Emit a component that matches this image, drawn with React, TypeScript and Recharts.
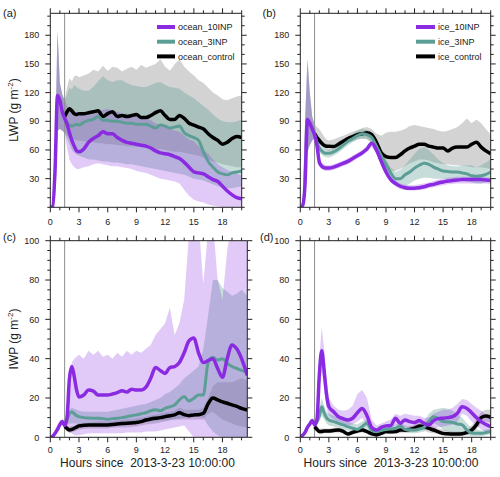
import React from 'react';
import { ComposedChart, Line, Area, XAxis, YAxis, ReferenceLine, Legend } from 'recharts';

const FONT = '"Liberation Sans", Arial, Helvetica, sans-serif';
const INK = '#222222';
const COL_10 = '#8a2be2';
const COL_3 = '#5c9e96';
const COL_CTRL = '#000000';

// ---------- axes ----------
const X_TICKS = [0, 1, 2, 3, 4, 5, 6, 7, 8, 9, 10, 11, 12, 13, 14, 15, 16, 17, 18, 19, 20];
const X_LABELS = [0, 3, 6, 9, 12, 15, 18];
const LWP_TICKS = [0, 10, 20, 30, 40, 50, 60, 70, 80, 90, 100, 110, 120, 130, 140, 150, 160, 170, 180, 190, 200];
const LWP_LABELS = [30, 60, 90, 120, 150, 180];
const IWP_TICKS = [0, 5, 10, 15, 20, 25, 30, 35, 40, 45, 50, 55, 60, 65, 70, 75, 80, 85, 90, 95, 100];
const IWP_LABELS = [0, 20, 40, 60, 80, 100];

const OCEAN_NAMES = ['ocean_10INP', 'ocean_3INP', 'ocean_control'];
const ICE_NAMES = ['ice_10INP', 'ice_3INP', 'ice_control'];

// ---------- time (hours) ----------
const T = [0, 0.25, 0.5, 0.75, 1, 1.25, 1.5, 1.75, 2, 2.25, 2.5, 2.75, 3, 3.5, 4, 4.5, 5, 5.5, 6, 6.5, 7, 7.5, 8, 8.5, 9, 9.5, 10, 10.5, 11, 11.5, 12, 12.5, 13, 13.5, 14, 14.5, 15, 15.5, 16, 16.5, 17, 17.5, 18, 18.5, 19, 19.5, 20];
const T_C = [0, 0.25, 0.5, 0.75, 1, 1.25, 1.5, 1.75, 2, 2.25, 2.5, 2.75, 3, 3.5, 4, 4.5, 5, 5.5, 6, 6.5, 7, 7.5, 8, 8.5, 9, 9.5, 10, 10.5, 11, 11.5, 12, 12.5, 13, 13.5, 14, 14.5, 15, 15.5, 16, 16.5, 17, 17.5, 18, 18.5, 19, 19.5, 20, 20.6];

const N = null;

// ---------- (a) ocean LWP ----------
const A_10INP = [0, 1, 40, 117, 112, 100, 93, 87, 78, 70, 64, 59, 58, 61, 68, 72, 75, 79, 77, 77, 73, 70, 68, 67, 66, 65, 64, 62, 59, 57, 56, 55, 53, 51, 47, 42, 37, 36, 35, 32, 29, 27, 22, 17, 13, 10, 9];
const A_3INP = [N, N, N, N, N, N, 93, 89, 86, 85, 86, 87, 86, 89, 91, 92, 95, 91, 91, 90, 90, 89, 88, 88, 87, 87, 87, 85, 83, 86, 85, 83, 84, 85, 78, 75, 73, 70, 58, 48, 42, 37, 35, 34, 36, 37, 38];
const A_CTRL = [N, N, N, N, N, N, 95, 100, 103, 101, 98, 97, 98, 98, 99, 100, 101, 95, 98, 100, 95, 96, 95, 96, 97, 94, 94, 96, 99, 101, 96, 92, 92, 96, 93, 88, 86, 84, 82, 77, 73, 70, 66, 68, 72, 74, 73];
const A_10INP_LO = [0, 0, 10, 80, 82, 80, 78, 62, 50, 45, 42, 40, 40, 42, 43, 45, 46, 45, 44, 43, 43, 42, 41, 40, 38, 37, 36, 34, 32, 30, 29, 28, 27, 25, 18, 12, 8, 6, 5, 3, 2, 1, 0, 0, 0, 0, 0];
const A_10INP_HI = [0, 2, 60, 185, 130, 118, 112, 106, 102, 100, 98, 97, 97, 97, 96, 98, 100, 102, 103, 101, 100, 98, 98, 97, 96, 94, 93, 91, 88, 86, 85, 83, 80, 79, 75, 71, 69, 64, 60, 56, 50, 45, 42, 39, 37, 35, 33];
const A_3INP_LO = [0, 0, 10, 80, 82, 80, 78, 72, 66, 60, 57, 55, 54, 52, 50, 50, 49, 48, 48, 47, 47, 46, 45, 45, 44, 43, 42, 41, 40, 39, 38, 37, 36, 35, 34, 32, 30, 29, 28, 26, 24, 22, 21, 20, 20, 21, 22];
const A_3INP_HI = [0, 2, 60, 185, 130, 118, 112, 118, 125, 123, 128, 126, 124, 122, 122, 126, 132, 137, 133, 131, 133, 133, 130, 128, 127, 126, 126, 128, 130, 131, 128, 126, 125, 124, 120, 117, 114, 110, 106, 102, 97, 93, 90, 89, 89, 90, 92];
const A_CTRL_LO = [0, 0, 10, 80, 82, 80, 78, 75, 72, 71, 71, 70, 70, 69, 68, 68, 67, 67, 66, 66, 65, 65, 64, 64, 63, 63, 62, 62, 61, 61, 60, 59, 58, 58, 57, 56, 55, 54, 52, 50, 48, 47, 45, 44, 43, 42, 42];
const A_CTRL_HI = [0, 2, 60, 185, 130, 118, 112, 125, 135, 132, 137, 138, 136, 138, 140, 144, 142, 148, 143, 147, 146, 142, 145, 147, 144, 149, 146, 148, 150, 155, 147, 143, 150, 155, 147, 142, 138, 133, 130, 125, 120, 117, 113, 112, 114, 116, 117];

// ---------- (b) ice LWP ----------
const B_10INP = [0, 2, 25, 92, 88, 82, 76, 65, 47, 43, 41.5, 41, 41, 42, 44, 46, 48, 51, 54, 57, 61, 67, 60, 48, 37, 29, 25, 22, 20.5, 20, 20, 20.5, 21.5, 23, 24, 25.5, 26.5, 27.5, 28, 28.5, 29, 29, 29, 29, 29, 28.5, 28];
const B_3INP = [N, N, N, N, N, N, 76, 68, 62, 59, 57, 56.5, 56.5, 58, 61, 65, 69, 72, 75, 77, 76, 73, 64, 54, 45, 36, 30, 30, 34, 37, 41, 44, 46, 45, 42, 40, 38, 37.5, 37, 37, 36, 35, 33, 32.5, 33, 34.5, 37];
const B_CTRL = [N, N, N, N, N, N, 77, 73, 70, 67, 65, 64, 64, 63.5, 66, 69, 72, 74, 76, 77, 78, 76, 68, 57, 53, 52, 52, 55, 59, 62, 64, 66, 66, 64, 63, 62, 62, 59, 62, 63, 63, 63, 66, 68, 63, 59, 56];
const B_10INP_LO = [0, 0, 15, 58, 65, 70, 72, 60, 44, 40, 38.5, 38, 38, 39, 41, 43, 45, 48, 51, 54, 58, 63, 56, 44, 33, 26, 22, 19, 18, 17.5, 17.5, 18, 18.5, 20, 21, 22, 23, 24, 24.5, 25, 25, 25, 25, 25, 25, 25, 24.5];
const B_10INP_HI = [0, 3, 90, 155, 120, 95, 86, 72, 52, 47, 45, 44, 44, 45, 47, 49, 51, 54, 57, 60, 64, 70, 64, 52, 41, 33, 28, 25, 23.5, 23, 23, 24, 25, 26, 27.5, 29, 30, 31, 31.5, 32, 32, 32, 32, 32, 32, 31.5, 31];
const B_3INP_LO = [0, 0, 15, 58, 65, 70, 72, 63, 57, 55, 53, 52.5, 52, 54, 57, 61, 65, 68, 71, 72, 71, 67, 58, 47, 36, 27, 22, 21, 22, 25, 28, 30, 31, 31, 30, 30, 30, 30, 29, 29, 28, 27, 26, 25, 25, 26, 27];
const B_3INP_HI = [0, 3, 90, 155, 120, 95, 86, 72, 66, 63, 61, 60.5, 60, 61, 65, 69, 73, 77, 80, 82, 81, 78, 70, 60, 50, 42, 37, 39, 44, 50, 56, 61, 63, 60, 55, 50, 46, 44, 43, 43, 43, 44, 44, 42, 44, 47, 50];
const B_CTRL_LO = [0, 0, 15, 58, 65, 70, 72, 69, 66, 63, 61, 60, 59, 60, 63, 65, 67, 69, 71, 72, 72, 68, 58, 48, 42, 38, 38, 40, 43, 46, 48, 50, 50, 49, 47, 46, 45, 45, 44, 44, 43, 43, 42, 42, 42, 41, 40];
const B_CTRL_HI = [0, 3, 90, 155, 120, 95, 86, 84, 82, 78, 74, 71, 70, 71, 73, 75, 77, 79, 81, 83, 84, 82, 77, 75, 78, 79, 79, 80, 82, 85, 86, 85, 84, 83, 82, 80, 79, 80, 82, 84, 88, 93, 88, 92, 88, 82, 76];

// ---------- (c) ocean IWP ----------
const C_10INP = [0, 0.5, 2, 4, 6.5, 8, 6, 10, 30, 36, 31, 24, 20.5, 21.5, 24, 23.5, 21.5, 21.5, 21.5, 22, 22.7, 23.7, 23, 24.5, 24, 24, 25.5, 30, 35.5, 34, 32.5, 35.5, 36, 38, 43, 49, 50.5, 43, 38, 39, 40, 35, 30.5, 40, 47, 45, 40, 31.5];
const C_3INP = [N, N, N, N, N, N, 6, 9, 12, 13, 12, 11, 10.5, 10, 9.8, 9.7, 9.7, 9.5, 9.2, 9.5, 9.7, 10, 10.5, 11, 11.4, 12, 12.5, 13.5, 14, 13.5, 14.7, 15.5, 16.4, 19, 20.7, 18.5, 19.8, 21.5, 21.5, 38, 40.7, 39.3, 40, 37.6, 36, 35, 34, 33];
const C_CTRL = [N, N, N, N, N, N, 5.4, 4.5, 3.7, 4, 4.6, 5.2, 5.8, 6.1, 6.3, 6.3, 6.3, 6.2, 6.3, 6.5, 6.8, 7, 7.1, 7.3, 7.5, 8, 8.8, 9.3, 9.7, 10, 10.5, 11, 11.4, 12.5, 11.5, 11, 11.4, 11.5, 12.2, 17, 20, 19, 18, 17.3, 16.5, 15.7, 14.7, 13.9];
const C_10INP_LO = [0, 0, 1, 3, 5, 7, 5, 6, 3, 2, 1, 1, 1, 1.5, 2, 2, 2, 2, 2, 2, 2, 2, 2.5, 2.5, 2.5, 2.5, 3, 3, 3, 3.5, 4, 4.5, 5, 5.5, 6, 3, 0, 0, 0, 0, 0, 0, 0, 0, 0, 0, 0, 0];
const C_10INP_HI = [0, 1, 3, 5, 8, 9, 7, 15, 30, 38, 40, 41, 42, 40, 44, 42, 44, 41, 42, 40, 43, 41, 44, 42, 44, 43, 45, 47, 52, 55, 58, 66, 52, 58, 70, 103, 110, 110, 78, 105, 110, 80, 70, 95, 110, 110, 110, 110];
const C_3INP_LO = [0, 0, 1, 3, 5, 7, 5, 6, 7, 7, 7, 7, 6.5, 6.5, 6, 6, 6, 6, 6, 6, 6, 6.5, 6.5, 7, 7, 7.5, 7.5, 8, 8, 8.5, 8.5, 9, 9, 9.5, 10, 10.5, 11, 10.5, 10, 6, 3, 1, 0, 0, 0, 0, 0, 0];
const C_3INP_HI = [0, 1, 3, 5, 8, 9, 7, 11, 14, 15, 14.5, 14, 13.5, 13, 13, 13, 13, 13, 13, 13.5, 14, 14.5, 15, 15.5, 16, 16.5, 17, 18, 19, 20, 22, 23, 25, 27, 30, 32, 34, 36, 45, 62, 80, 80, 76, 74, 72, 73, 75, 72];
const C_CTRL_LO = [0, 0, 1, 3, 5, 7, 5, 3, 2, 2.5, 3, 3.5, 4, 4.2, 4.5, 4.5, 4.5, 4.5, 4.5, 4.8, 5, 5, 5, 5.2, 5.5, 6, 6.5, 6.8, 7, 7.5, 8, 8.5, 9, 9, 9, 9, 9, 9, 9, 12, 13, 11, 9, 8, 7, 6, 5.5, 5];
const C_CTRL_HI = [0, 1, 3, 5, 8, 9, 7, 6, 5.5, 5.8, 6, 6.5, 7, 7.2, 7.5, 7.8, 8, 8, 8, 8.2, 8.5, 8.8, 9, 9.2, 9.5, 10, 10.5, 11, 11.5, 12, 12.5, 13, 13.5, 15, 14, 14, 14, 14, 15, 20, 26, 28, 28, 28, 28, 29, 30, 29];

// ---------- (d) ice IWP ----------
const D_10INP = [0, 1, 2.5, 5, 6.8, 8.5, 6.3, 9, 32, 44, 34, 22, 15.6, 13, 10.5, 9.5, 8.8, 9.7, 12.5, 14.7, 11, 5, 3.7, 5, 5.8, 6, 9.7, 7.1, 8.8, 8, 7.5, 8.5, 7.1, 6.3, 8.5, 9.5, 9.7, 10, 10.5, 12.2, 15.5, 14.7, 12.5, 10, 8, 6.5, 5.4];
const D_3INP = [N, N, N, N, N, N, 6.3, 8, 11, 15.5, 12.5, 10, 8.8, 8, 7.1, 6.3, 5.4, 4.6, 4, 5.5, 7.2, 3.5, 2.9, 3.5, 4, 4.2, 4.6, 5.8, 4, 3.8, 3.7, 4.2, 5.1, 8, 10.5, 9.7, 8, 7.8, 7.5, 6.8, 6.3, 3.7, 2.2, 2, 2, 2.4, 2.9];
const D_CTRL = [N, N, N, N, N, N, 5.4, 4, 2.9, 3, 3.2, 3.2, 3.2, 3.5, 3.7, 3, 1.7, 2.5, 3.2, 3.7, 2.9, 1.8, 1.2, 2, 2.9, 2.8, 2.9, 3.7, 3.6, 4, 4.6, 5.8, 5.4, 4.5, 3.7, 2.8, 2, 1.8, 1.7, 1.7, 1.8, 2.5, 3.7, 6.3, 10, 10.8, 10.2];
const D_10INP_LO = [0, 0.5, 1.5, 4, 6, 7.5, 5, 6, 24, 33, 25, 15, 11, 9, 8, 7, 6, 6.5, 8, 10, 6, 2.5, 1.8, 3, 4, 4, 6.5, 4.5, 5.5, 5, 4.5, 5, 4.5, 4, 4.5, 5, 5.5, 6, 6.5, 8, 12, 11, 8, 6, 4, 3, 2];
const D_10INP_HI = [0, 1.5, 3.5, 6, 8, 9.5, 7.5, 12, 40, 56, 45, 30, 20, 16, 14, 13.5, 14, 16, 22, 24, 20, 9, 6, 7, 8, 9, 12, 11, 12, 11.5, 11, 11, 10, 10, 12, 13, 14, 14, 15, 17, 19.5, 19, 17, 15, 13.5, 11.5, 10];
const D_3INP_LO = [0, 0.5, 1.5, 4, 6, 7.5, 5, 6, 8, 11, 9, 7, 6, 5.5, 5, 4, 3.5, 2.5, 2, 4, 4.5, 1.5, 1.5, 2, 2.5, 2.5, 3, 4, 2.5, 2, 2, 2.5, 3, 5, 7, 6, 4, 3, 2.5, 2, 2, 1, 0.5, 0.5, 0.5, 1, 1.5];
const D_3INP_HI = [0, 1.5, 3.5, 6, 8, 9.5, 7.5, 10, 15, 20, 16, 13, 12, 11, 10, 9, 8, 7, 6.5, 8, 9, 5, 4, 5, 5.5, 6, 6.5, 7.5, 6, 5.5, 5.5, 6, 8, 12, 14, 14.5, 15, 14.5, 13.5, 11.5, 10, 7, 5, 4, 3.5, 4, 4.5];
const D_CTRL_LO = [0, 0.5, 1.5, 4, 6, 7.5, 5, 3, 1.5, 1.8, 2, 2, 2, 2.2, 2.5, 2, 0.5, 1.5, 2, 2.5, 2, 0.8, 0.3, 1, 1.5, 1.5, 1.8, 2.2, 2.5, 2.8, 3, 4, 3.5, 2.5, 2, 1.5, 0.8, 0.6, 0.5, 0.5, 0.5, 1, 2, 4, 7, 8, 7.5];
const D_CTRL_HI = [0, 1.5, 3.5, 6, 8, 9.5, 7.5, 6, 4.5, 4.5, 4.5, 4.5, 4.5, 4.8, 5, 4, 3, 3.5, 4.5, 5, 4, 3, 2.5, 3, 4, 4, 4, 4.5, 5, 5.5, 6.5, 8, 8, 7, 5.5, 4.5, 4, 3.5, 3, 3, 3, 4, 6, 9, 13, 14, 14];

// ---------- helpers ----------
type Num = number | null;

interface PanelSpec {
  times: number[];
  v10: Num[]; v3: Num[]; vc: Num[];
  lo10: number[]; hi10: number[];
  lo3: number[]; hi3: number[];
  loc: number[]; hic: number[];
  names: string[];
  xMax: number;
  yMax: number;
  yTicks: number[];
  yLabels: number[];
  xLabelDy: number;
  box: { left: number; top: number; width: number; height: number };
  plot: { left: number; top: number; right: number; bottom: number };
  legend?: { left: number; top: number; lineLen: number };
}

function buildRows(s: PanelSpec) {
  return s.times.map((t, i) => ({
    t,
    v10: s.v10[i],
    v3: s.v3[i],
    vc: s.vc[i],
    b10: [s.lo10[i], s.hi10[i]],
    b3: [s.lo3[i], s.hi3[i]],
    bc: [s.loc[i], s.hic[i]],
  }));
}

const textStyle = { fontFamily: FONT, fontSize: 9, fill: INK };

function makeTick(side: 'bottom' | 'top' | 'left' | 'right', labels: number[], majors: number[], dy = 17) {
  return (props: any) => {
    const { x, y, payload } = props;
    const v = payload ? payload.value : null;
    const major = majors.includes(v);
    const len = major ? 5 : 3;
    const lab = labels.includes(v);
    if (side === 'bottom') {
      return (
        <g>
          <line x1={x} x2={x} y1={y} y2={y + len} stroke={INK} strokeWidth={1} />
          {lab && <text x={x} y={y + dy} textAnchor="middle" style={textStyle}>{v}</text>}
        </g>
      );
    }
    if (side === 'top') {
      return <line x1={x} x2={x} y1={y} y2={y - len} stroke={INK} strokeWidth={1} />;
    }
    if (side === 'left') {
      return (
        <g>
          <line x1={x} x2={x - len} y1={y} y2={y} stroke={INK} strokeWidth={1} />
          {lab && <text x={x - 11} y={y + 3.2} textAnchor="end" style={textStyle}>{v}</text>}
        </g>
      );
    }
    return <line x1={x} x2={x + len} y1={y} y2={y} stroke={INK} strokeWidth={1} />;
  };
}

function makeLegend(order: string[], lineLen: number) {
  return (props: any) => {
    const items = [...(props.payload || [])]
      .filter((p: any) => order.includes(p.value))
      .sort((a: any, b: any) => order.indexOf(a.value) - order.indexOf(b.value));
    return (
      <svg width={100} height={46} style={{ display: 'block', overflow: 'visible' }}>
        {items.map((it: any, i: number) => {
          const cy = 7 + i * 14.7;
          return (
            <g key={it.value}>
              <line x1={0} x2={lineLen} y1={cy} y2={cy} stroke={it.color} strokeWidth={4} />
              <text x={lineLen + 3} y={cy + 3.1} style={{ fontFamily: FONT, fontSize: 9, fill: INK }}>{it.value}</text>
            </g>
          );
        })}
      </svg>
    );
  };
}

const AX = 1; // thickness reserved by each axis

function Panel({ s }: { s: PanelSpec }) {
  const rows = buildRows(s);
  const yMajors = s.yLabels;
  const axisLine = { stroke: INK, strokeWidth: 1 };
  const margin = {
    left: s.plot.left - AX,
    top: s.plot.top - AX,
    right: s.box.width - s.plot.right - AX,
    bottom: s.box.height - s.plot.bottom - AX,
  };
  return (
    <div style={{ position: 'absolute', left: s.box.left, top: s.box.top, width: s.box.width, height: s.box.height }}>
      <ComposedChart width={s.box.width} height={s.box.height} data={rows} margin={margin}>
        <XAxis xAxisId="b" dataKey="t" type="number" domain={[0, s.xMax]} allowDataOverflow ticks={X_TICKS}
          interval={0} height={AX} tickSize={0} tickMargin={0} tickLine={false} axisLine={axisLine}
          tick={makeTick('bottom', X_LABELS, X_LABELS, s.xLabelDy)} />
        <XAxis xAxisId="t" orientation="top" dataKey="t" type="number" domain={[0, s.xMax]} allowDataOverflow ticks={X_TICKS}
          interval={0} height={AX} tickSize={0} tickMargin={0} tickLine={false} axisLine={axisLine}
          tick={makeTick('top', [], X_LABELS)} />
        <YAxis yAxisId="l" type="number" domain={[0, s.yMax]} allowDataOverflow ticks={s.yTicks}
          interval={0} width={AX} tickSize={0} tickMargin={0} tickLine={false} axisLine={axisLine}
          tick={makeTick('left', s.yLabels, yMajors)} />
        <YAxis yAxisId="r" orientation="right" type="number" domain={[0, s.yMax]} allowDataOverflow ticks={s.yTicks}
          interval={0} width={AX} tickSize={0} tickMargin={0} tickLine={false} axisLine={axisLine}
          tick={makeTick('right', [], yMajors)} />
        <Area xAxisId="b" yAxisId="l" type="linear" dataKey="bc" stroke="none" fill="#c8c8c8" fillOpacity={0.8}
          legendType="none" isAnimationActive={false} dot={false} activeDot={false} />
        <Area xAxisId="b" yAxisId="l" type="linear" dataKey="b3" stroke="none" fill={COL_3} fillOpacity={0.35}
          legendType="none" isAnimationActive={false} dot={false} activeDot={false} />
        <Area xAxisId="b" yAxisId="l" type="linear" dataKey="b10" stroke="none" fill={COL_10} fillOpacity={0.25}
          legendType="none" isAnimationActive={false} dot={false} activeDot={false} />
        <ReferenceLine xAxisId="b" yAxisId="l" x={1.5} stroke="#8c8c8c" strokeWidth={1} />
        <Line xAxisId="b" yAxisId="l" type="monotone" dataKey="vc" name={s.names[2]} stroke={COL_CTRL} strokeWidth={3.5}
          dot={false} activeDot={false} isAnimationActive={false} strokeLinejoin="round" />
        <Line xAxisId="b" yAxisId="l" type="monotone" dataKey="v3" name={s.names[1]} stroke={COL_3} strokeWidth={3}
          dot={false} activeDot={false} isAnimationActive={false} strokeLinejoin="round" />
        <Line xAxisId="b" yAxisId="l" type="monotone" dataKey="v10" name={s.names[0]} stroke={COL_10} strokeWidth={3.5}
          dot={false} activeDot={false} isAnimationActive={false} strokeLinejoin="round" />
        {s.legend && (
          <Legend layout="vertical" align="center" verticalAlign="middle"
            wrapperStyle={{ left: s.legend.left, top: s.legend.top, width: 100, height: 46 }}
            content={makeLegend(s.names, s.legend.lineLen)} />
        )}
      </ComposedChart>
    </div>
  );
}

const PANELS: PanelSpec[] = [
  {
    times: T, v10: A_10INP, v3: A_3INP, vc: A_CTRL,
    lo10: A_10INP_LO, hi10: A_10INP_HI, lo3: A_3INP_LO, hi3: A_3INP_HI, loc: A_CTRL_LO, hic: A_CTRL_HI,
    names: OCEAN_NAMES, xMax: 20, yMax: 203, yTicks: LWP_TICKS, yLabels: LWP_LABELS, xLabelDy: 17.4,
    box: { left: 0, top: 0, width: 250, height: 235 },
    plot: { left: 50.3, top: 13.3, right: 241.7, bottom: 207.3 },
    legend: { left: 157, top: 19.5, lineLen: 18 },
  },
  {
    times: T, v10: B_10INP, v3: B_3INP, vc: B_CTRL,
    lo10: B_10INP_LO, hi10: B_10INP_HI, lo3: B_3INP_LO, hi3: B_3INP_HI, loc: B_CTRL_LO, hic: B_CTRL_HI,
    names: ICE_NAMES, xMax: 20, yMax: 203, yTicks: LWP_TICKS, yLabels: LWP_LABELS, xLabelDy: 17.4,
    box: { left: 250, top: 0, width: 250, height: 235 },
    plot: { left: 50.3, top: 13.3, right: 240.7, bottom: 207.3 },
    legend: { left: 165.7, top: 19.5, lineLen: 19 },
  },
  {
    times: T_C, v10: C_10INP, v3: C_3INP, vc: C_CTRL,
    lo10: C_10INP_LO, hi10: C_10INP_HI, lo3: C_3INP_LO, hi3: C_3INP_HI, loc: C_CTRL_LO, hic: C_CTRL_HI,
    names: OCEAN_NAMES, xMax: 20.6, yMax: 100, yTicks: IWP_TICKS, yLabels: IWP_LABELS, xLabelDy: 16,
    box: { left: 0, top: 235, width: 255, height: 242 },
    plot: { left: 50.3, top: 5.7, right: 247.3, bottom: 202.3 },
  },
  {
    times: T, v10: D_10INP, v3: D_3INP, vc: D_CTRL,
    lo10: D_10INP_LO, hi10: D_10INP_HI, lo3: D_3INP_LO, hi3: D_3INP_HI, loc: D_CTRL_LO, hic: D_CTRL_HI,
    names: ICE_NAMES, xMax: 20, yMax: 100, yTicks: IWP_TICKS, yLabels: IWP_LABELS, xLabelDy: 16,
    box: { left: 250, top: 235, width: 250, height: 242 },
    plot: { left: 50.3, top: 5.7, right: 240.7, bottom: 202.3 },
  },
];

const X_TITLE = 'Hours since  2013-3-23 10:00:00';

function Overlay() {
  const big = { fontFamily: FONT, fontSize: 12, fill: INK };
  const letter = { fontFamily: FONT, fontSize: 11, fill: INK };
  return (
    <svg width={500} height={477} style={{ position: 'absolute', left: 0, top: 0, pointerEvents: 'none' }}>
      <text x={3} y={17} style={letter}>(a)</text>
      <text x={262.5} y={17} style={letter}>(b)</text>
      <text x={3} y={241} style={letter}>(c)</text>
      <text x={260} y={241} style={letter}>(d)</text>
      <text transform="translate(18,110) rotate(-90)" textAnchor="middle" style={big}>
        LWP (g m<tspan fontSize={8} dy={-5}>-2</tspan><tspan dy={5}>)</tspan>
      </text>
      <text transform="translate(18,339) rotate(-90)" textAnchor="middle" style={big}>
        IWP (g m<tspan fontSize={8} dy={-5}>-2</tspan><tspan dy={5}>)</tspan>
      </text>
      <text x={147.5} y={467} textAnchor="middle" style={{ ...big, whiteSpace: 'pre' }}>{X_TITLE}</text>
      <text x={391} y={467} textAnchor="middle" style={{ ...big, whiteSpace: 'pre' }}>{X_TITLE}</text>
    </svg>
  );
}

export default function App() {
  return (
    <div style={{ position: 'absolute', left: 0, top: 0, width: 500, height: 477, background: '#ffffff', overflow: 'hidden' }}>
      {PANELS.map((s, i) => <Panel key={i} s={s} />)}
      <Overlay />
    </div>
  );
}
